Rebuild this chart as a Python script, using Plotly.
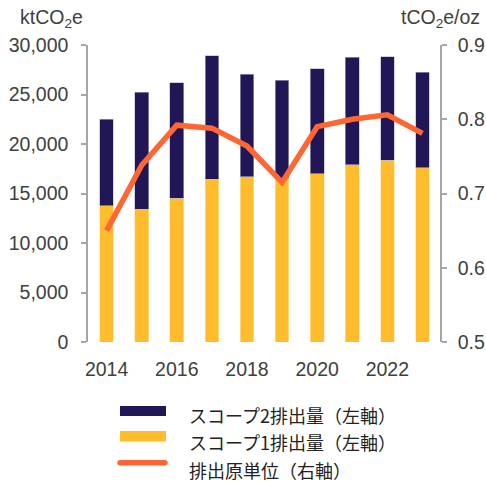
import plotly.graph_objects as go

years = [2014, 2015, 2016, 2017, 2018, 2019, 2020, 2021, 2022, 2023]
scope1 = [13740, 13400, 14510, 16430, 16670, 16530, 17000, 17910, 18350, 17610]
scope2 = [8760, 11820, 11680, 12460, 10400, 9930, 10600, 10850, 10440, 9630]
intensity = [0.650, 0.738, 0.792, 0.788, 0.764, 0.715, 0.790, 0.800, 0.806, 0.781]

left_ticks = [0, 5000, 10000, 15000, 20000, 25000, 30000]
left_tick_text = ["0", "5,000", "10,000", "15,000", "20,000", "25,000", "30,000"]
right_ticks = [0.5, 0.6, 0.7, 0.8, 0.9]
x_ticks = [2014, 2016, 2018, 2020, 2022]

legend_names = ["スコープ2排出量（左軸）", "スコープ1排出量（左軸）", "排出原単位（右軸）"]

NAVY = "#211756"
YELLOW = "#FFBD2E"
ORANGE = "#FF6633"
GREY = "#A6A6A6"
TEXT = "#404040"
FONT = "Liberation Sans, Arial, sans-serif"
CJK = "Noto Sans CJK JP, sans-serif"

W, H = 486, 487
L, R, T, B = 88, 440, 45, 342

def px(x):
    return (x - L) / (R - L)

def py(y):
    return (B - y) / (B - T)

TS = 19.5

fig = go.Figure()
fig.add_bar(x=years, y=scope1, marker=dict(color=YELLOW, line=dict(color="#FFE3A0", width=0.6)),
            width=0.39, name=legend_names[1], showlegend=False)
fig.add_bar(x=years, y=scope2, marker=dict(color=NAVY, line=dict(color="#B5B0CC", width=0.6)),
            width=0.39, name=legend_names[0], showlegend=False)
fig.add_scatter(x=years, y=intensity, yaxis="y2", mode="lines",
                line=dict(color=ORANGE, width=5.5), name=legend_names[2], showlegend=False)

fig.update_layout(
    width=W, height=H,
    margin=dict(l=L, r=W - R, t=T, b=H - B, pad=0, autoexpand=False),
    paper_bgcolor="white", plot_bgcolor="white",
    barmode="stack",
    font=dict(family=FONT, color=TEXT, size=TS),
    xaxis=dict(range=[2013.47, 2023.5], tickvals=x_ticks, showgrid=False, zeroline=False,
               showline=False, ticks="", ticklabelstandoff=13,
               tickfont=dict(size=TS, color=TEXT)),
    yaxis=dict(range=[0, 30000], tickvals=left_ticks, ticktext=left_tick_text,
               showgrid=False, zeroline=False, showline=True, linecolor=GREY, linewidth=1.5,
               ticks="outside", ticklen=5, tickcolor=GREY, tickwidth=1.5,
               ticklabelstandoff=9, tickfont=dict(size=TS, color=TEXT)),
    yaxis2=dict(range=[0.5, 0.9], tickvals=right_ticks, tickformat=".1f", overlaying="y",
                side="right", showgrid=False, zeroline=False, showline=True, linecolor=GREY,
                linewidth=1.5, ticks="outside", ticklen=5, tickcolor=GREY, tickwidth=1.5,
                ticklabelstandoff=7, tickfont=dict(size=TS, color=TEXT)),
)

annotations = [
    dict(text="ktCO<sub>2</sub>e", x=px(18), y=py(18), xref="paper", yref="paper",
         xanchor="left", yanchor="middle", showarrow=False, font=dict(size=TS, color=TEXT)),
    dict(text="tCO<sub>2</sub>e/oz", x=px(482), y=py(18), xref="paper", yref="paper",
         xanchor="right", yanchor="middle", showarrow=False, font=dict(size=TS, color=TEXT)),
]
shapes = [
    dict(type="rect", xref="paper", yref="paper", x0=px(120), x1=px(166), y0=py(406), y1=py(416),
         fillcolor=NAVY, line=dict(width=0)),
    dict(type="rect", xref="paper", yref="paper", x0=px(120), x1=px(166), y0=py(431), y1=py(441.5),
         fillcolor=YELLOW, line=dict(width=0)),
    dict(type="line", xref="paper", yref="paper", x0=px(120), x1=px(165), y0=py(462.7), y1=py(462.7),
         line=dict(color=ORANGE, width=5.5)),
    dict(type="circle", xref="paper", yref="paper", x0=px(117.3), x1=px(122.7), y0=py(460), y1=py(465.4),
         fillcolor=ORANGE, line=dict(width=0)),
    dict(type="circle", xref="paper", yref="paper", x0=px(162.3), x1=px(167.7), y0=py(460), y1=py(465.4),
         fillcolor=ORANGE, line=dict(width=0)),
]
for name, yc in zip(legend_names, [415, 441.5, 470.5]):
    annotations.append(dict(text=name, x=px(187), y=py(yc), xref="paper", yref="paper",
                            xanchor="left", yanchor="middle", showarrow=False,
                            font=dict(family=CJK, size=18, color="#222222")))
fig.update_layout(annotations=annotations, shapes=shapes)

fig.write_html("out.html", config={"displayModeBar": False},
               post_script="document.body.style.margin='0';document.body.style.overflow='hidden';")
